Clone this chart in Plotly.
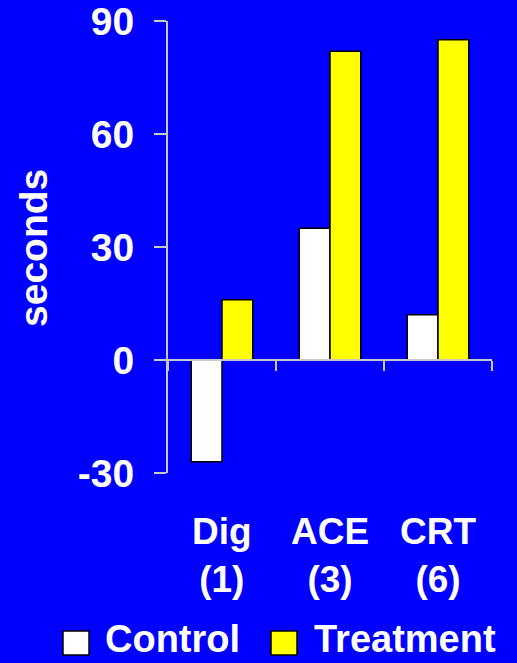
import plotly.graph_objects as go

categories = ["Dig", "ACE", "CRT"]
category_labels = ["Dig<br>(1)", "ACE<br>(3)", "CRT<br>(6)"]
control = [-27, 35, 12]
treatment = [16, 82, 85]
y_ticks = [-30, 0, 30, 60, 90]
y_tick_text = ["-30", "0", "30", "60", "90"]
series_names = ["Control", "Treatment"]

BG = "#0000FF"
AXC = "#C8C8C8"
FONT = "Liberation Sans, Arial, sans-serif"

def f(size):
    return dict(family=FONT, size=size, color="white", weight="bold")

fig = go.Figure()
fig.add_trace(go.Bar(x=categories, y=control, name=series_names[0],
                     marker=dict(color="white", line=dict(color="black", width=1.5)),
                     showlegend=False))
fig.add_trace(go.Bar(x=categories, y=treatment, name=series_names[1],
                     marker=dict(color="#FFFF00", line=dict(color="black", width=1.5)),
                     showlegend=False))

W, H = 517, 663
L, R, T, B = 168, 25, 21, 190
pw, ph = W - L - R, H - T - B

def px(x):
    return (x - L) / pw

def py(y):
    return (H - B - y) / ph

annotations = []
for c, lab in zip(categories, category_labels):
    annotations.append(dict(x=c, xref="x", y=py(509), yref="paper", text=lab,
                            showarrow=False, xanchor="center", yanchor="top",
                            font=f(37)))
annotations.append(dict(x=px(33), xref="paper", y=py(248), yref="paper", text="seconds",
                        textangle=-90, showarrow=False, xanchor="center", yanchor="middle",
                        font=f(39)))

shapes = []
leg = [(series_names[0], "white", 63, 103), (series_names[1], "#FFFF00", 271, 312)]
for name, col, sx, tx in leg:
    shapes.append(dict(type="rect", xref="paper", yref="paper",
                       x0=px(sx), x1=px(sx + 26), y0=py(655), y1=py(631),
                       fillcolor=col, line=dict(color="black", width=1.5)))
    annotations.append(dict(x=px(tx), xref="paper", y=py(639), yref="paper", text=name,
                            showarrow=False, xanchor="left", yanchor="middle",
                            font=f(38)))

fig.update_layout(
    width=W, height=H,
    margin=dict(l=L, r=R, t=T, b=B, pad=0),
    paper_bgcolor=BG, plot_bgcolor=BG,
    barmode="group", bargap=0.43, bargroupgap=0,
    showlegend=False,
    font=dict(family=FONT, color="white"),
    xaxis=dict(anchor="free", position=0.25, showline=True, linecolor=AXC, linewidth=2,
               ticks="outside", tickson="boundaries", ticklen=10, tickwidth=2, tickcolor=AXC,
               showticklabels=False, showgrid=False, zeroline=False, automargin=False,
               range=[-0.5, 2.5]),
    yaxis=dict(range=[-30, 90], tickvals=y_ticks, ticktext=y_tick_text,
               showline=True, linecolor=AXC, linewidth=2,
               ticks="outside", ticklen=12, tickwidth=2, tickcolor=AXC,
               showgrid=False, zeroline=False, ticklabelstandoff=12,
               ticklabeloverflow="allow", automargin=False,
               tickfont=f(39)),
    annotations=annotations,
    shapes=shapes,
)

fig.write_html("out.html", config={"displayModeBar": False},
               post_script="document.body.style.margin='0';document.body.style.overflow='hidden';")
